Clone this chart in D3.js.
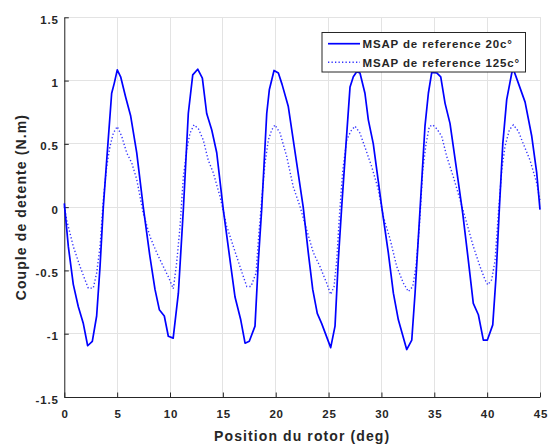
<!DOCTYPE html>
<html>
<head>
<meta charset="utf-8">
<script src="https://cdn.jsdelivr.net/npm/d3@7/dist/d3.min.js"></script>
<style>
  html, body { margin: 0; padding: 0; background: #fff; }
  svg { display: block; }
  text { font-family: "Liberation Sans", Arial, Helvetica, sans-serif; font-weight: bold; fill: #262626; }
</style>
</head>
<body>
<svg id="chart" width="550" height="445"></svg>
<script>
// ---- data ----
const xTicks = [0, 5, 10, 15, 20, 25, 30, 35, 40, 45];
const xTickLabels = ["0", "5", "10", "15", "20", "25", "30", "35", "40", "45"];
const yTicks = [-1.5, -1, -0.5, 0, 0.5, 1, 1.5];
const yTickLabels = ["-1.5", "-1", "-0.5", "0", "0.5", "1", "1.5"];
const seriesNames = ["MSAP de reference 20c°", "MSAP de reference 125c°"];

const pos20 = [0, 0.38, 0.85, 1.32, 1.8, 2.21, 2.65, 3.06, 3.38, 3.69, 4.01, 4.48, 4.73, 5.01, 5.33, 5.8, 6.28, 6.85, 7.47, 8.1, 8.58, 8.99, 9.46, 9.84, 10.3,
  10.79, 11.26, 11.73, 12.15, 12.62, 13.06, 13.47, 13.95, 14.42, 15.04, 15.68, 16.15, 16.69, 17.1, 17.5, 18.04, 18.36, 18.67, 19.15, 19.4, 19.84, 20.25, 20.6,
  21.19, 21.98, 22.6, 23.08, 23.5, 23.93, 24.35, 25.2, 25.61, 25.92, 26.24, 26.65, 27.03, 27.34, 27.66, 27.97, 28.44, 28.76, 29.23, 30.03,
  30.65, 31.13, 31.6, 32.39, 32.87, 33.18, 33.65, 34.12, 34.44, 34.76, 35.23, 35.61, 36.02, 36.49, 37.12, 37.69, 38.22, 38.69, 39.17, 39.64, 40.02,
  40.53, 40.84, 41.15, 41.48, 41.85, 42.33, 42.48, 42.95, 43.59, 44.22, 44.69, 45];
const torque20 = [0.03, -0.31, -0.61, -0.785, -0.92, -1.095, -1.06, -0.86, -0.47, 0.0, 0.37, 0.90, 0.98, 1.085, 1.03, 0.87, 0.72, 0.43, 0.0, -0.39, -0.65, -0.81, -0.86, -1.02, -1.035,
  -0.68, -0.02, 0.74, 1.045, 1.09, 1.02, 0.74, 0.61, 0.43, -0.02, -0.42, -0.71, -0.89, -1.075, -1.06, -0.94, -0.42, -0.02, 0.74, 0.93, 1.08, 1.06, 0.97,
  0.795, 0.35, 0.0, -0.36, -0.65, -0.84, -0.92, -1.11, -0.94, -0.42, 0.0, 0.5, 0.95, 1.03, 1.07, 1.06, 0.9, 0.69, 0.5, 0.0,
  -0.36, -0.68, -0.89, -1.125, -1.05, -0.68, -0.02, 0.64, 0.9, 1.065, 1.06, 1.03, 0.82, 0.66, 0.29, -0.05, -0.42, -0.76, -0.85, -1.05, -1.05,
  -0.93, -0.55, -0.02, 0.5, 0.85, 1.06, 1.09, 0.98, 0.83, 0.56, 0.27, -0.02];

const pos125 = [0, 0.22, 0.85, 1.49, 1.96, 2.27, 2.74, 3.06, 3.38, 3.69, 4.01, 4.32, 4.64, 5.01, 5.43, 5.9, 6.38, 6.85, 7.47, 8.1, 8.74, 9.37, 9.84, 10.31,
  10.63, 10.95, 11.26, 11.58, 11.89, 12.27, 12.68, 13.15, 13.62, 14.1, 14.73, 15.36, 15.99, 16.62, 17.26, 17.66, 18.14, 18.36, 18.67, 18.99, 19.3, 19.62, 19.93,
  20.41, 21.04, 21.66, 22.3, 22.93, 23.56, 24.19, 24.82, 25.2, 25.52, 25.77, 26.02, 26.34, 26.72, 27.1, 27.5, 27.97, 28.54, 29.08, 29.71, 30.18,
  30.81, 31.45, 32.07, 32.55, 32.96, 33.27, 33.59, 33.91, 34.22, 34.53, 34.85, 35.23, 35.7, 36.18, 36.8, 37.44, 38.07, 38.69, 39.33, 39.8, 40.06,
  40.43, 40.75, 41.06, 41.38, 41.69, 42.1, 42.48, 42.95, 43.42, 44.06, 44.69, 45];
const torque125 = [0.005, -0.1, -0.31, -0.47, -0.574, -0.64, -0.64, -0.52, -0.31, 0.058, 0.32, 0.48, 0.585, 0.637, 0.56, 0.43, 0.35, 0.22, -0.05, -0.23, -0.36, -0.47, -0.55, -0.645,
  -0.44, -0.15, 0.24, 0.45, 0.585, 0.65, 0.62, 0.53, 0.37, 0.27, 0.084, -0.15, -0.31, -0.47, -0.627, -0.627, -0.52, -0.26, 0.058, 0.35, 0.53, 0.61, 0.65,
  0.585, 0.40, 0.16, 0.005, -0.18, -0.36, -0.47, -0.6, -0.69, -0.627, -0.42, -0.074, 0.29, 0.53, 0.6, 0.64, 0.585, 0.45, 0.32, 0.137, -0.074,
  -0.25, -0.47, -0.6, -0.667, -0.627, -0.47, -0.15, 0.29, 0.5, 0.637, 0.65, 0.62, 0.56, 0.40, 0.24, 0.058, -0.126, -0.31, -0.47, -0.574, -0.614,
  -0.574, -0.42, -0.05, 0.29, 0.48, 0.61, 0.65, 0.6, 0.5, 0.37, 0.19, 0.05];

// ---- layout ----
const svg = d3.select("#chart");
const x = d3.scaleLinear().domain([0, 45]).range([64.3, 540]);
const y = d3.scaleLinear().domain([-1.5, 1.5]).range([397, 17.3]);
const axisColor = "#262626";
const gridColor = "#e3e3e3";
const fontFam = '"Liberation Sans", Arial, Helvetica, sans-serif';

// grid
const grid = svg.append("g");
grid.selectAll("line.gx").data(xTicks).join("line")
  .attr("x1", d => x(d)).attr("x2", d => x(d))
  .attr("y1", y(-1.5)).attr("y2", y(1.5))
  .attr("stroke", gridColor).attr("stroke-width", 1).attr("shape-rendering", "crispEdges");
grid.selectAll("line.gy").data(yTicks).join("line")
  .attr("x1", x(0)).attr("x2", x(45))
  .attr("y1", d => y(d)).attr("y2", d => y(d))
  .attr("stroke", gridColor).attr("stroke-width", 1).attr("shape-rendering", "crispEdges");

// axes
const xAxis = svg.append("g").attr("transform", `translate(0,${y(-1.5)})`)
  .call(d3.axisBottom(x).tickValues(xTicks).tickFormat((d, i) => xTickLabels[i])
    .tickSizeInner(-4.5).tickSizeOuter(0).tickPadding(13));
const yAxis = svg.append("g").attr("transform", `translate(${x(0)},0)`)
  .call(d3.axisLeft(y).tickValues(yTicks).tickFormat((d, i) => yTickLabels[i])
    .tickSizeInner(-4.5).tickSizeOuter(0).tickPadding(6.5));
[xAxis, yAxis].forEach(g => {
  g.select(".domain").attr("stroke", axisColor).attr("stroke-width", 1);
  g.selectAll(".tick line").attr("stroke", axisColor).attr("stroke-width", 1);
  g.selectAll(".tick text").attr("fill", axisColor)
    .style("font-family", fontFam)
    .style("font-weight", "bold").style("font-size", "11.5px")
    .style("letter-spacing", "0.8px");
  g.attr("font-family", null).attr("font-size", null);
});
xAxis.selectAll(".tick text").attr("y", 0).attr("dy", "21px").attr("dx", "0.4px");
yAxis.selectAll(".tick text").attr("dy", "6px").attr("dx", "0.8px");

// lines
const line = d3.line().x(d => x(d[0])).y(d => y(d[1]));
const data20 = pos20.map((p, i) => [p, torque20[i]]);
const data125 = pos125.map((p, i) => [p, torque125[i]]);

svg.append("path").datum(data125).attr("d", line)
  .attr("fill", "none").attr("stroke", "#0000ff").attr("stroke-width", 1.4)
  .attr("stroke-dasharray", "1.3,2.2").attr("opacity", 0.8);
svg.append("path").datum(data20).attr("d", line)
  .attr("fill", "none").attr("stroke", "#0000ff").attr("stroke-width", 1.7)
  .attr("stroke-linejoin", "round");

// axis titles
svg.append("text").attr("x", x(22.5)).attr("y", 441)
  .attr("text-anchor", "middle").style("font-size", "14px").style("letter-spacing", "1.1px")
  .text("Position du rotor (deg)");
svg.append("text").attr("transform", `translate(26,${(y(-1.5) + y(1.5)) / 2}) rotate(-90)`)
  .attr("text-anchor", "middle").style("font-size", "14px").style("letter-spacing", "1.1px")
  .text("Couple de detente (N.m)");

// legend
const lg = svg.append("g");
lg.append("rect").attr("x", 322).attr("y", 32.5).attr("width", 203.5).attr("height", 39.5)
  .attr("fill", "#fff").attr("stroke", axisColor).attr("stroke-width", 1);
const legendRows = [
  { name: seriesNames[0], dash: null, w: 1.7, op: 1 },
  { name: seriesNames[1], dash: "1.3,2.2", w: 1.4, op: 0.8 }
];
legendRows.forEach((r, i) => {
  const cy = 43.7 + i * 18.6;
  lg.append("line").attr("x1", 328).attr("x2", 360).attr("y1", cy).attr("y2", cy)
    .attr("stroke", "#0000ff").attr("stroke-width", r.w).attr("opacity", r.op)
    .attr("stroke-dasharray", r.dash);
  lg.append("text").attr("x", 362.5).attr("y", cy + 4.2).style("font-size", "11.5px")
    .style("letter-spacing", "0.85px").text(r.name);
});
</script>
</body>
</html>
